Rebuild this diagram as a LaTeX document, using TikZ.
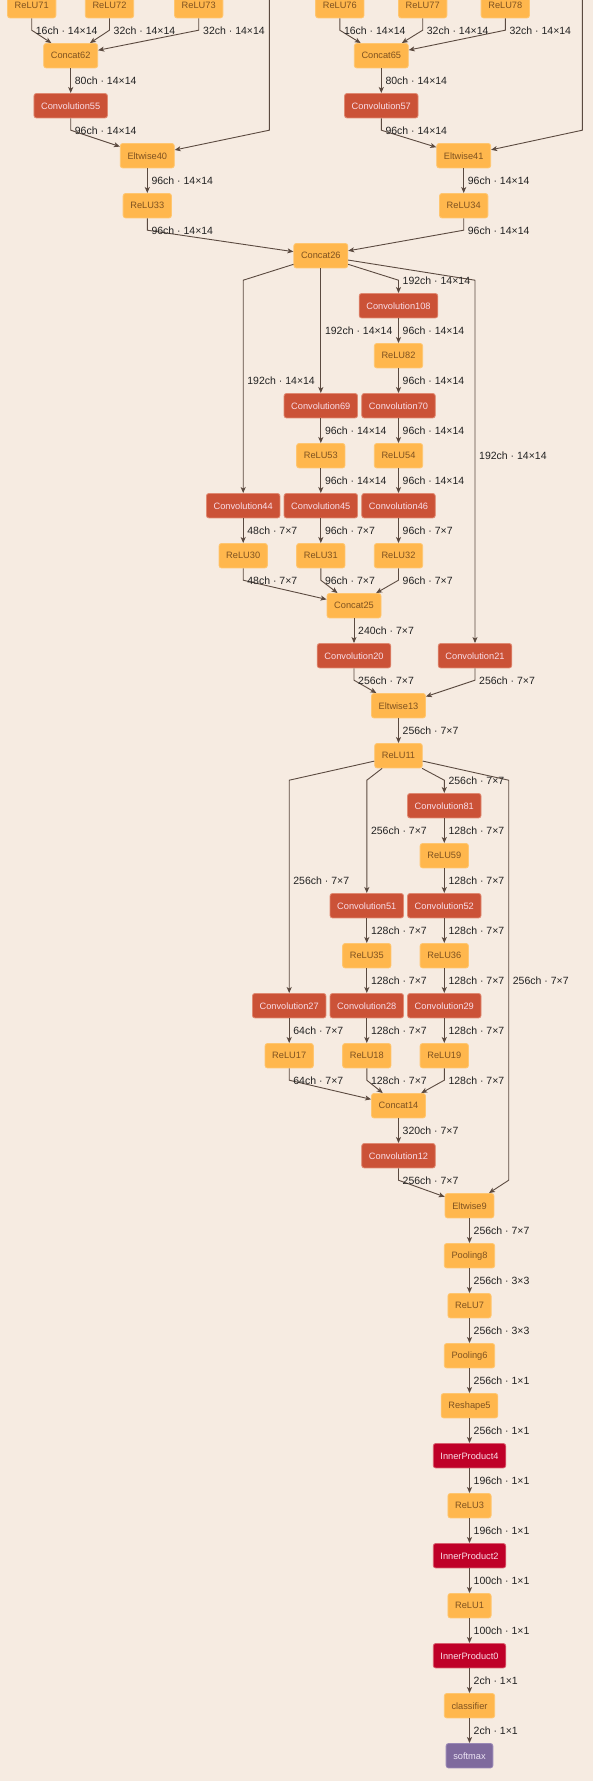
\documentclass[tikz,border=0pt]{standalone}
\usepackage{fontspec}
\setmainfont{Liberation Sans}
\usetikzlibrary{arrows.meta}
\definecolor{bg}{HTML}{F6EBE1}
\definecolor{orng}{HTML}{FFB74D}
\definecolor{orngb}{HTML}{FFC670}
\definecolor{orngt}{HTML}{7F5220}
\definecolor{conv}{HTML}{CB5237}
\definecolor{convb}{HTML}{E08A72}
\definecolor{convt}{HTML}{FADDE8}
\definecolor{ipc}{HTML}{BF0028}
\definecolor{ipb}{HTML}{D9606F}
\definecolor{smc}{HTML}{7F6A9D}
\definecolor{smb}{HTML}{9A88B5}
\definecolor{smt}{HTML}{ECE4F4}
\definecolor{edgec}{HTML}{5B4A40}
\definecolor{labc}{HTML}{222222}
\begin{document}
\begin{tikzpicture}[x=1pt,y=-1pt,
  base/.style={rounded corners=2.5pt, minimum height=24.5pt, inner xsep=7.2pt, inner ysep=0pt,
    font=\fontsize{9.25}{10}\selectfont, line width=0.8pt},
  relu/.style={base, fill=orng, draw=orngb, text=orngt},
  convbox/.style={base, fill=conv, draw=convb, text=convt},
  ipbox/.style={base, fill=ipc, draw=ipb, text=convt},
  smbox/.style={base, fill=smc, draw=smb, text=smt},
  lab/.style={anchor=west, inner sep=0pt, font=\fontsize{10.5}{12}\selectfont, text=labc},
  edge/.style={draw=edgec, line width=0.9pt, -{Stealth[length=6pt,width=5pt,inset=1.5pt]}}
]
\fill[bg] (0,0) rectangle (593,1781);
\useasboundingbox (0,0) rectangle (593,1781);

% nodes
\node[relu] (r71) at (31.7,5.7) {ReLU71};
\node[relu] (r72) at (109.5,5.7) {ReLU72};
\node[relu] (r73) at (198.7,5.7) {ReLU73};
\node[relu] (r76) at (339.8,5.7) {ReLU76};
\node[relu] (r77) at (422.7,5.7) {ReLU77};
\node[relu] (r78) at (505.3,5.7) {ReLU78};
\node[relu] (c62) at (70.7,55.7) {Concat62};
\node[relu] (c65) at (381.3,55.7) {Concat65};
\node[convbox] (cv55) at (70.7,105.7) {Convolution55};
\node[convbox] (cv57) at (381.3,105.7) {Convolution57};
\node[relu] (e40) at (147.3,155.7) {Eltwise40};
\node[relu] (e41) at (463.7,155.7) {Eltwise41};
\node[relu] (r33) at (147.3,205.7) {ReLU33};
\node[relu] (r34) at (463.7,205.7) {ReLU34};
\node[relu] (c26) at (320.8,255.7) {Concat26};
\node[convbox] (cv108) at (398.5,305.7) {Convolution108};
\node[relu] (r82) at (398.5,355.7) {ReLU82};
\node[convbox] (cv69) at (320.8,405.7) {Convolution69};
\node[convbox] (cv70) at (398.5,405.7) {Convolution70};
\node[relu] (r53) at (320.8,455.7) {ReLU53};
\node[relu] (r54) at (398.5,455.7) {ReLU54};
\node[convbox] (cv44) at (243.2,505.7) {Convolution44};
\node[convbox] (cv45) at (320.8,505.7) {Convolution45};
\node[convbox] (cv46) at (398.5,505.7) {Convolution46};
\node[relu] (r30) at (243.2,555.7) {ReLU30};
\node[relu] (r31) at (320.8,555.7) {ReLU31};
\node[relu] (r32) at (398.5,555.7) {ReLU32};
\node[relu] (c25) at (354,605.7) {Concat25};
\node[convbox] (cv20) at (354,655.7) {Convolution20};
\node[convbox] (cv21) at (475,655.7) {Convolution21};
\node[relu] (e13) at (398.5,705.7) {Eltwise13};
\node[relu] (r11) at (398.5,755.7) {ReLU11};
\node[convbox] (cv81) at (444.3,805.7) {Convolution81};
\node[relu] (r59) at (444.3,855.7) {ReLU59};
\node[convbox] (cv51) at (366.8,905.7) {Convolution51};
\node[convbox] (cv52) at (444.3,905.7) {Convolution52};
\node[relu] (r35) at (366.8,955.7) {ReLU35};
\node[relu] (r36) at (444.3,955.7) {ReLU36};
\node[convbox] (cv27) at (289.2,1005.7) {Convolution27};
\node[convbox] (cv28) at (366.8,1005.7) {Convolution28};
\node[convbox] (cv29) at (444.3,1005.7) {Convolution29};
\node[relu] (r17) at (289.2,1055.7) {ReLU17};
\node[relu] (r18) at (366.8,1055.7) {ReLU18};
\node[relu] (r19) at (444.3,1055.7) {ReLU19};
\node[relu] (c14) at (398.5,1105.7) {Concat14};
\node[convbox] (cv12) at (398.5,1155.7) {Convolution12};
\node[relu] (e9) at (469.5,1205.7) {Eltwise9};
\node[relu] (p8) at (469.5,1255.7) {Pooling8};
\node[relu] (r7) at (469.5,1305.7) {ReLU7};
\node[relu] (p6) at (469.5,1355.7) {Pooling6};
\node[relu] (rs5) at (469.5,1405.7) {Reshape5};
\node[ipbox] (ip4) at (469.5,1455.7) {InnerProduct4};
\node[relu] (r3) at (469.5,1505.7) {ReLU3};
\node[ipbox] (ip2) at (469.5,1555.7) {InnerProduct2};
\node[relu] (r1) at (469.5,1605.7) {ReLU1};
\node[ipbox] (ip0) at (469.5,1655.7) {InnerProduct0};
\node[relu] (cls) at (469.5,1705.7) {classifier};
\node[smbox] (sm) at (469.5,1755.7) {softmax};

\coordinate (sk1) at (269.3,-15);
\coordinate (sk2) at (582.3,-15);

% edges
\draw[edge] (r71) -- (31.7,30.2) -- (c62);
\draw[edge] (r72) -- (109.5,30.2) -- (c62);
\draw[edge] (r73) -- (198.7,30.2) -- (c62);
\draw[edge] (r76) -- (339.8,30.2) -- (c65);
\draw[edge] (r77) -- (422.7,30.2) -- (c65);
\draw[edge] (r78) -- (505.3,30.2) -- (c65);
\draw[edge] (c62) -- (cv55);
\draw[edge] (c65) -- (cv57);
\draw[edge] (cv55) -- (70.7,130.2) -- (e40);
\draw[edge] (sk1) -- (269.3,130.2) -- (e40);
\draw[edge] (cv57) -- (381.3,130.2) -- (e41);
\draw[edge] (sk2) -- (582.3,130.2) -- (e41);
\draw[edge] (e40) -- (r33);
\draw[edge] (e41) -- (r34);
\draw[edge] (r33) -- (147.3,230.2) -- (c26);
\draw[edge] (r34) -- (463.7,230.2) -- (c26);
\draw[edge] (c26) -- (243.2,280.2) -- (cv44);
\draw[edge] (c26) -- (cv69);
\draw[edge] (c26) -- (398.5,280.2) -- (cv108);
\draw[edge] (c26) -- (475,280.2) -- (cv21);
\draw[edge] (cv108) -- (r82);
\draw[edge] (r82) -- (cv70);
\draw[edge] (cv69) -- (r53);
\draw[edge] (cv70) -- (r54);
\draw[edge] (r53) -- (cv45);
\draw[edge] (r54) -- (cv46);
\draw[edge] (cv44) -- (r30);
\draw[edge] (cv45) -- (r31);
\draw[edge] (cv46) -- (r32);
\draw[edge] (r30) -- (243.2,580.2) -- (c25);
\draw[edge] (r31) -- (320.8,580.2) -- (c25);
\draw[edge] (r32) -- (398.5,580.2) -- (c25);
\draw[edge] (c25) -- (cv20);
\draw[edge] (cv20) -- (354,680.2) -- (e13);
\draw[edge] (cv21) -- (475,680.2) -- (e13);
\draw[edge] (e13) -- (r11);
\draw[edge] (r11) -- (289.2,780.2) -- (cv27);
\draw[edge] (r11) -- (366.8,780.2) -- (cv51);
\draw[edge] (r11) -- (444.3,780.2) -- (cv81);
\draw[edge] (r11) -- (508.7,780.2) -- (508.7,1180.2) -- (e9);
\draw[edge] (cv81) -- (r59);
\draw[edge] (r59) -- (cv52);
\draw[edge] (cv51) -- (r35);
\draw[edge] (cv52) -- (r36);
\draw[edge] (r35) -- (cv28);
\draw[edge] (r36) -- (cv29);
\draw[edge] (cv27) -- (r17);
\draw[edge] (cv28) -- (r18);
\draw[edge] (cv29) -- (r19);
\draw[edge] (r17) -- (289.2,1080.2) -- (c14);
\draw[edge] (r18) -- (366.8,1080.2) -- (c14);
\draw[edge] (r19) -- (444.3,1080.2) -- (c14);
\draw[edge] (c14) -- (cv12);
\draw[edge] (cv12) -- (398.5,1180.2) -- (e9);
\draw[edge] (e9) -- (p8);
\draw[edge] (p8) -- (r7);
\draw[edge] (r7) -- (p6);
\draw[edge] (p6) -- (rs5);
\draw[edge] (rs5) -- (ip4);
\draw[edge] (ip4) -- (r3);
\draw[edge] (r3) -- (ip2);
\draw[edge] (ip2) -- (r1);
\draw[edge] (r1) -- (ip0);
\draw[edge] (ip0) -- (cls);
\draw[edge] (cls) -- (sm);

% labels
\node[lab] (l1) at (35.7,31) {16ch · 14×14};
\node[lab] (l2) at (113.5,31) {32ch · 14×14};
\node[lab] (l3) at (203,31) {32ch · 14×14};
\node[lab] (l4) at (343.8,31) {16ch · 14×14};
\node[lab] (l5) at (426.7,31) {32ch · 14×14};
\node[lab] (l6) at (509.3,31) {32ch · 14×14};
\node[lab] (l7) at (74.7,81) {80ch · 14×14};
\node[lab] (l8) at (385.3,81) {80ch · 14×14};
\node[lab] (l9) at (74.7,131) {96ch · 14×14};
\node[lab] (l10) at (385.3,131) {96ch · 14×14};
\node[lab] (l11) at (151.3,181) {96ch · 14×14};
\node[lab] (l12) at (467.7,181) {96ch · 14×14};
\node[lab] (l13) at (151.3,231) {96ch · 14×14};
\node[lab] (l14) at (467.7,231) {96ch · 14×14};
\node[lab] (l15) at (402.5,281) {192ch · 14×14};
\node[lab] (l16) at (324.8,331) {192ch · 14×14};
\node[lab] (l17) at (402.5,331) {96ch · 14×14};
\node[lab] (l18) at (247.2,381) {192ch · 14×14};
\node[lab] (l19) at (402.5,381) {96ch · 14×14};
\node[lab] (l20) at (324.8,431) {96ch · 14×14};
\node[lab] (l21) at (402.5,431) {96ch · 14×14};
\node[lab] (l22) at (479,456) {192ch · 14×14};
\node[lab] (l23) at (324.8,481) {96ch · 14×14};
\node[lab] (l24) at (402.5,481) {96ch · 14×14};
\node[lab] (l25) at (247.2,531) {48ch · 7×7};
\node[lab] (l26) at (324.8,531) {96ch · 7×7};
\node[lab] (l27) at (402.5,531) {96ch · 7×7};
\node[lab] (l28) at (247.2,581) {48ch · 7×7};
\node[lab] (l29) at (324.8,581) {96ch · 7×7};
\node[lab] (l30) at (402.5,581) {96ch · 7×7};
\node[lab] (l31) at (358,631) {240ch · 7×7};
\node[lab] (l32) at (358,681) {256ch · 7×7};
\node[lab] (l33) at (479,681) {256ch · 7×7};
\node[lab] (l34) at (402.5,731) {256ch · 7×7};
\node[lab] (l35) at (448.3,781) {256ch · 7×7};
\node[lab] (l36) at (370.8,831) {256ch · 7×7};
\node[lab] (l37) at (448.3,831) {128ch · 7×7};
\node[lab] (l38) at (293.2,881) {256ch · 7×7};
\node[lab] (l39) at (448.3,881) {128ch · 7×7};
\node[lab] (l40) at (370.8,931) {128ch · 7×7};
\node[lab] (l41) at (448.3,931) {128ch · 7×7};
\node[lab] (l42) at (370.8,981) {128ch · 7×7};
\node[lab] (l43) at (448.3,981) {128ch · 7×7};
\node[lab] (l44) at (512.7,981) {256ch · 7×7};
\node[lab] (l45) at (293.2,1031) {64ch · 7×7};
\node[lab] (l46) at (370.8,1031) {128ch · 7×7};
\node[lab] (l47) at (448.3,1031) {128ch · 7×7};
\node[lab] (l48) at (293.2,1081) {64ch · 7×7};
\node[lab] (l49) at (370.8,1081) {128ch · 7×7};
\node[lab] (l50) at (448.3,1081) {128ch · 7×7};
\node[lab] (l51) at (402.5,1131) {320ch · 7×7};
\node[lab] (l52) at (402.5,1181) {256ch · 7×7};
\node[lab] (l53) at (473.5,1231) {256ch · 7×7};
\node[lab] (l54) at (473.5,1281) {256ch · 3×3};
\node[lab] (l55) at (473.5,1331) {256ch · 3×3};
\node[lab] (l56) at (473.5,1381) {256ch · 1×1};
\node[lab] (l57) at (473.5,1431) {256ch · 1×1};
\node[lab] (l58) at (473.5,1481) {196ch · 1×1};
\node[lab] (l59) at (473.5,1531) {196ch · 1×1};
\node[lab] (l60) at (473.5,1581) {100ch · 1×1};
\node[lab] (l61) at (473.5,1631) {100ch · 1×1};
\node[lab] (l62) at (473.5,1681) {2ch · 1×1};
\node[lab] (l63) at (473.5,1731) {2ch · 1×1};
\end{tikzpicture}
\end{document}
